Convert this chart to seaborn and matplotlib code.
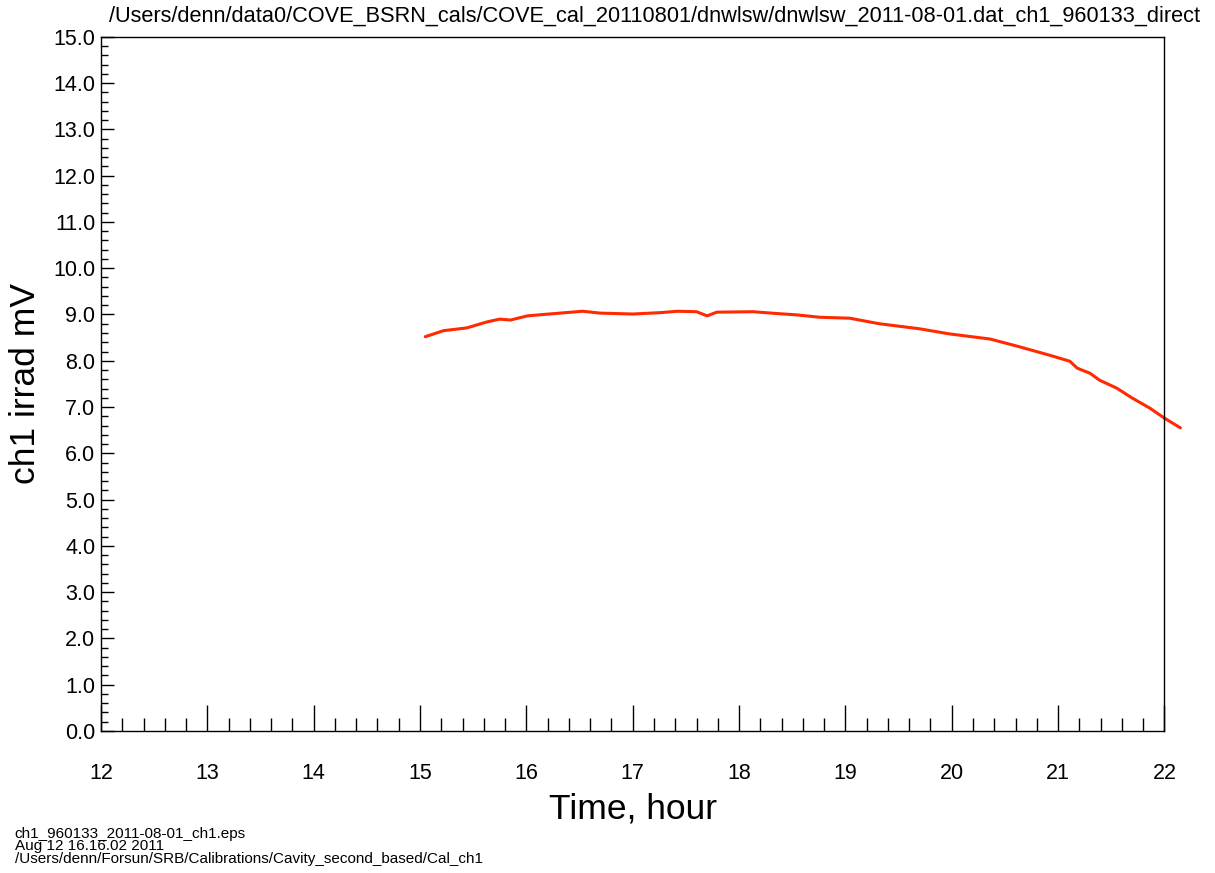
# ==========================================
#   ch1 irradiance vs time (COVE cal 2011-08-01)
# ==========================================
import matplotlib
matplotlib.use("Agg")
import matplotlib.pyplot as plt
import seaborn as sns
import pandas as pd
from matplotlib.ticker import MultipleLocator, FormatStrFormatter

sns.set_style("ticks")
plt.rcParams["font.family"] = ["Liberation Sans", "DejaVu Sans"]
plt.rcParams["text.color"] = "black"
plt.rcParams["axes.labelcolor"] = "black"
plt.rcParams["xtick.color"] = "black"
plt.rcParams["ytick.color"] = "black"

# ---------- data ----------
hours = [15.05, 15.22, 15.44, 15.63, 15.75, 15.85, 16.01, 16.16, 16.53, 16.69,
         17.00, 17.26, 17.42, 17.60, 17.70, 17.79, 18.13, 18.36, 18.55, 18.76,
         19.04, 19.32, 19.70, 19.98, 20.36, 20.64, 20.92, 21.11, 21.18, 21.30,
         21.39, 21.55, 21.70, 21.86, 22.00, 22.15]
irrad = [8.52, 8.65, 8.71, 8.84, 8.90, 8.88, 8.97, 9.00, 9.07, 9.03,
         9.01, 9.04, 9.07, 9.06, 8.97, 9.05, 9.06, 9.02, 8.99, 8.94,
         8.92, 8.80, 8.69, 8.58, 8.47, 8.30, 8.12, 7.99, 7.84, 7.73,
         7.58, 7.41, 7.19, 6.98, 6.76, 6.55]

title_text = "/Users/denn/data0/COVE_BSRN_cals/COVE_cal_20110801/dnwlsw/dnwlsw_2011-08-01.dat_ch1_960133_direct"
footer_lines = ["ch1_960133_2011-08-01_ch1.eps",
                "Aug 12 16.16.02 2011",
                "/Users/denn/Forsun/SRB/Calibrations/Cavity_second_based/Cal_ch1"]

df = pd.DataFrame({"Time": hours, "Irrad": irrad})

# ---------- figure ----------
fig = plt.figure(figsize=(12.15, 8.73), dpi=100)
ax = fig.add_axes([0.0831, 0.1627, 0.8753, 0.7951])

sns.lineplot(data=df, x="Time", y="Irrad", ax=ax, color="#ff2a00",
             linewidth=2.2, clip_on=False)

ax.set_xlim(12, 22)
ax.set_ylim(0, 15)
ax.xaxis.set_major_locator(MultipleLocator(1))
ax.xaxis.set_minor_locator(MultipleLocator(0.2))
ax.yaxis.set_major_locator(MultipleLocator(1))
ax.yaxis.set_minor_locator(MultipleLocator(0.2))
ax.yaxis.set_major_formatter(FormatStrFormatter("%.1f"))

ax.tick_params(axis="x", which="major", direction="in", length=19, width=1.0,
               pad=23, labelsize=15.5, bottom=True, top=False)
ax.tick_params(axis="x", which="minor", direction="in", length=9.4, width=1.0,
               bottom=True, top=False)
ax.tick_params(axis="y", which="major", direction="in", length=9.4, width=1.0,
               pad=4, labelsize=15.5, left=True, right=False)
ax.tick_params(axis="y", which="minor", direction="in", length=5, width=1.0,
               left=True, right=False)

for sp in ax.spines.values():
    sp.set_visible(True)
    sp.set_color("black")
    sp.set_linewidth(1.0)

ax.set_xlabel("Time, hour", fontsize=25.5, labelpad=6)
ax.set_ylabel("ch1 irrad mV", fontsize=25.5, labelpad=8)

fig.text(0.988, 0.975, title_text, ha="right", va="baseline", fontsize=15.7)

for i, line in enumerate(footer_lines):
    fig.text(0.012, 0.0401 - i * 0.0143, line, ha="left", va="baseline", fontsize=11)

fig.savefig("out.png", dpi=100)
